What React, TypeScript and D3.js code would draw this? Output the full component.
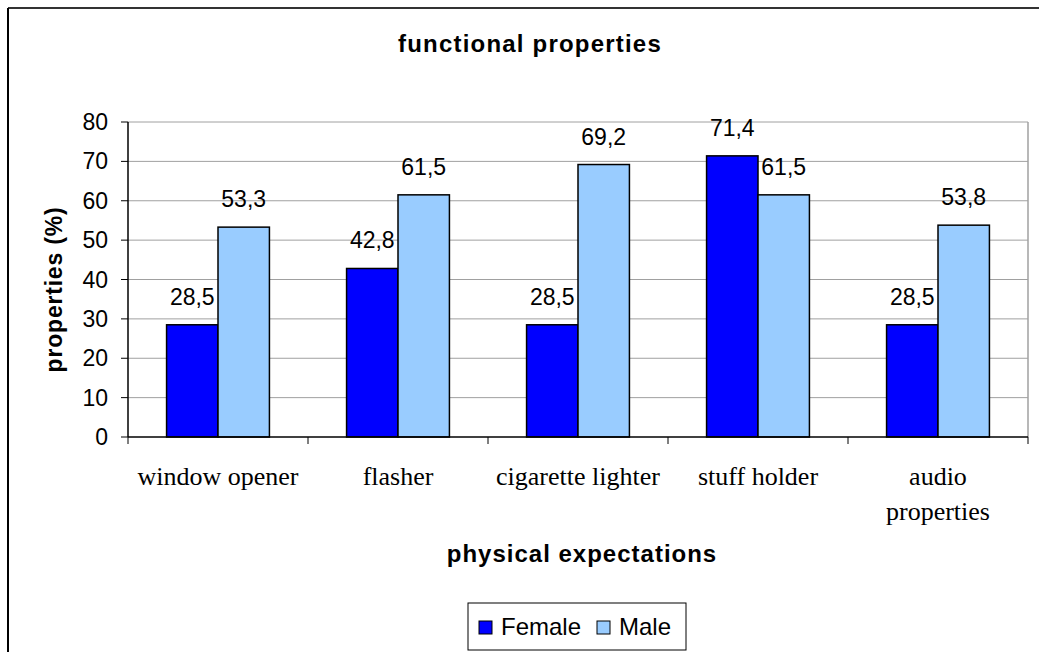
import React, { useEffect, useRef } from "react";
import * as d3 from "d3";

const WIDTH = 1039;
const HEIGHT = 652;

// data
const categories: string[][] = [
  ["window opener"],
  ["flasher"],
  ["cigarette lighter"],
  ["stuff holder"],
  ["audio", "properties"],
];
const female: number[] = [28.5, 42.8, 28.5, 71.4, 28.5];
const male: number[] = [53.3, 61.5, 69.2, 61.5, 53.8];
const seriesNames: string[] = ["Female", "Male"];
const seriesColors: string[] = ["#0000ff", "#99ccff"];
const yTicks: number[] = [0, 10, 20, 30, 40, 50, 60, 70, 80];

const App: React.FC = () => {
  const ref = useRef<SVGSVGElement | null>(null);

  useEffect(() => {
    if (!ref.current) return;
    const svg = d3.select(ref.current);
    svg.selectAll("*").remove();

    const left = 128;
    const right = 1028;
    const top = 122;
    const bottom = 437;
    const arial = "Arial, 'Liberation Sans', sans-serif";
    const times = "'Times New Roman', 'Liberation Serif', serif";

    // outer frame
    svg.append("line").attr("x1", 8).attr("x2", WIDTH).attr("y1", 8).attr("y2", 8)
      .attr("stroke", "#333").attr("stroke-width", 2);
    svg.append("line").attr("x1", 8).attr("x2", 8).attr("y1", 8).attr("y2", HEIGHT)
      .attr("stroke", "#000").attr("stroke-width", 2);

    const x0 = d3.scaleBand<number>()
      .domain(categories.map((_, i) => i))
      .range([left, right])
      .padding(0);
    const bw = x0.bandwidth();
    const barW = bw / 3.5;
    const offset = (bw - 2 * barW) / 2;

    const y = d3.scaleLinear().domain([0, 80]).range([bottom, top]);

    // gridlines
    svg.append("g").selectAll("line").data(yTicks.filter((t) => t > 0)).enter()
      .append("line")
      .attr("x1", left).attr("x2", right)
      .attr("y1", (d) => y(d)).attr("y2", (d) => y(d))
      .attr("stroke", "#a0a0a0").attr("stroke-width", 1);

    // plot border right
    svg.append("line").attr("x1", right).attr("x2", right).attr("y1", top).attr("y2", bottom)
      .attr("stroke", "#a0a0a0").attr("stroke-width", 1.5);

    // bars + value labels
    const series = [female, male];
    series.forEach((vals, s) => {
      svg.append("g").selectAll("rect").data(vals).enter()
        .append("rect")
        .attr("x", (_, i) => (x0(i) || 0) + offset + s * barW)
        .attr("y", (d) => y(d))
        .attr("width", barW)
        .attr("height", (d) => bottom - y(d))
        .attr("fill", seriesColors[s])
        .attr("stroke", "#000")
        .attr("stroke-width", 1.5);
      svg.append("g").selectAll("text").data(vals).enter()
        .append("text")
        .attr("x", (_, i) => (x0(i) || 0) + offset + s * barW + barW / 2)
        .attr("y", (d) => y(d) - 20)
        .attr("text-anchor", "middle")
        .attr("font-family", arial)
        .attr("font-size", 23)
        .text((d) => d.toFixed(1).replace(".", ","));
    });

    // y axis
    const yAxis = svg.append("g");
    yAxis.append("line").attr("x1", left).attr("x2", left).attr("y1", top).attr("y2", bottom)
      .attr("stroke", "#000").attr("stroke-width", 1.5);
    yAxis.selectAll(".tk").data(yTicks).enter().append("line")
      .attr("x1", left - 7).attr("x2", left)
      .attr("y1", (d) => y(d)).attr("y2", (d) => y(d))
      .attr("stroke", "#000").attr("stroke-width", 1);
    yAxis.selectAll("text").data(yTicks).enter().append("text")
      .attr("x", left - 20)
      .attr("y", (d) => y(d) + 8)
      .attr("text-anchor", "end")
      .attr("font-family", arial)
      .attr("font-size", 23)
      .text((d) => d);

    // x axis
    const xAxis = svg.append("g");
    xAxis.append("line").attr("x1", left).attr("x2", right).attr("y1", bottom).attr("y2", bottom)
      .attr("stroke", "#000").attr("stroke-width", 1.5);
    xAxis.selectAll("line.tk").data(d3.range(categories.length + 1)).enter().append("line")
      .attr("x1", (d) => left + d * bw).attr("x2", (d) => left + d * bw)
      .attr("y1", bottom).attr("y2", bottom + 7)
      .attr("stroke", "#000").attr("stroke-width", 1);
    categories.forEach((lines, i) => {
      const t = xAxis.append("text")
        .attr("text-anchor", "middle")
        .attr("font-family", times)
        .attr("font-size", 26);
      lines.forEach((ln, j) => {
        t.append("tspan")
          .attr("x", (x0(i) || 0) + bw / 2)
          .attr("y", 485 + j * 35)
          .text(ln);
      });
    });

    // titles
    svg.append("text").attr("x", 530).attr("y", 52).attr("text-anchor", "middle")
      .attr("font-family", arial).attr("font-weight", "bold").attr("font-size", 24)
      .attr("letter-spacing", 1.2)
      .text("functional properties");
    svg.append("text").attr("x", 582).attr("y", 562).attr("text-anchor", "middle")
      .attr("font-family", arial).attr("font-weight", "bold").attr("font-size", 24)
      .attr("letter-spacing", 1)
      .text("physical expectations");
    svg.append("text")
      .attr("transform", `translate(62, ${(top + bottom) / 2 + 10}) rotate(-90)`)
      .attr("text-anchor", "middle")
      .attr("font-family", arial).attr("font-weight", "bold").attr("font-size", 23)
      .attr("letter-spacing", 0.8)
      .text("properties (%)");

    // legend
    const lg = svg.append("g");
    lg.append("rect").attr("x", 468).attr("y", 603).attr("width", 218).attr("height", 47)
      .attr("fill", "#fff").attr("stroke", "#000").attr("stroke-width", 1);
    const legendX = [479, 597];
    seriesNames.forEach((name, s) => {
      lg.append("rect").attr("x", legendX[s]).attr("y", 621).attr("width", 13).attr("height", 13)
        .attr("fill", seriesColors[s]).attr("stroke", "#000").attr("stroke-width", 1);
      lg.append("text").attr("x", legendX[s] + 22).attr("y", 635)
        .attr("font-family", arial).attr("font-size", 24)
        .text(name);
    });
  }, []);

  return (
    <svg
      ref={ref}
      width={WIDTH}
      height={HEIGHT}
      style={{ position: "absolute", left: 0, top: 0, background: "#fff" }}
    />
  );
};

export default App;
